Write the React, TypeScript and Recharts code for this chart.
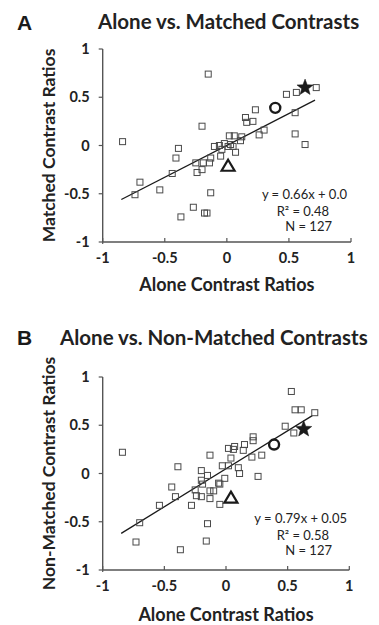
import React from 'react';
import { ScatterChart, Scatter, XAxis, YAxis, ReferenceLine } from 'recharts';

// Panel A: Alone vs. Matched
const aAlone = [-0.84,-0.15,-0.2,-0.39,-0.41,-0.44,-0.54,-0.70,-0.74,-0.37,-0.27,-0.18,-0.16,-0.13,-0.25,-0.24,-0.20,-0.19,-0.14,-0.13,-0.10,-0.06,-0.05,-0.04,-0.02,0.02,0.06,0.03,0.07,0.11,0.12,0.15,0.16,0.21,0.23,0.26,0.30,0.48,0.56,0.72,0.55,0.55,0.63,0.01,0.05];
const aMatched = [0.04,0.74,0.20,-0.03,-0.13,-0.29,-0.46,-0.38,-0.51,-0.74,-0.64,-0.70,-0.70,-0.49,-0.18,-0.28,-0.25,-0.18,-0.18,-0.13,-0.01,0.00,-0.11,-0.04,0.02,0.10,0.10,0.01,-0.07,0.05,0.09,0.29,0.24,0.25,0.37,0.11,0.16,0.53,0.55,0.60,0.34,0.12,0.01,-0.01,-0.01];
const aStar = [{ x: 0.63, y: 0.60 }];
const aCircle = [{ x: 0.39, y: 0.39 }];
const aTriangle = [{ x: 0.01, y: -0.21 }];
const aFit = [{ x: -0.85, y: -0.56 }, { x: 0.71, y: 0.47 }];
const aStats = ['y = 0.66x + 0.0', 'R² = 0.48', 'N = 127'];

// Panel B: Alone vs. Non-Matched
const bAlone = [-0.84,0.53,0.56,0.61,0.72,0.48,0.55,0.22,0.22,0.15,0.07,0.06,0.02,0.14,0.29,0.21,-0.13,0.04,-0.39,-0.03,0.02,0.10,0.11,0.26,-0.20,-0.15,-0.20,-0.01,-0.06,-0.05,-0.19,-0.44,-0.25,-0.24,-0.20,-0.13,-0.10,-0.41,-0.54,-0.28,-0.13,-0.05,-0.70,-0.15,-0.73,-0.37,-0.16];
const bNonMatched = [0.22,0.85,0.66,0.66,0.63,0.49,0.42,0.38,0.34,0.30,0.28,0.25,0.26,0.24,0.19,0.17,0.19,0.16,0.07,0.08,0.08,0.06,0.00,-0.03,0.03,-0.02,-0.07,-0.05,-0.10,-0.11,-0.11,-0.14,-0.17,-0.23,-0.24,-0.18,-0.18,-0.24,-0.33,-0.33,-0.26,-0.32,-0.51,-0.52,-0.71,-0.79,-0.70];
const bStar = [{ x: 0.63, y: 0.46 }];
const bCircle = [{ x: 0.39, y: 0.30 }];
const bTriangle = [{ x: 0.04, y: -0.25 }];
const bFit = [{ x: -0.85, y: -0.62 }, { x: 0.70, y: 0.60 }];
const bStats = ['y = 0.79x + 0.05', 'R² = 0.58', 'N = 127'];

const axisTicks = [-1, -0.5, 0, 0.5, 1];
const FONT = 'Lato, "Open Sans", sans-serif';
const AXIS = '#555';

const Square = (p: any) => (
  <rect x={p.cx - 3} y={p.cy - 3} width={6} height={6} fill="none" stroke="#4a4a4a" strokeWidth={1} />
);
const Star = (p: any) => {
  const pts: string[] = [];
  for (let i = 0; i < 10; i++) {
    const r = i % 2 === 0 ? 8.5 : 3.6;
    const a = -Math.PI / 2 + (i * Math.PI) / 5;
    pts.push(`${p.cx + r * Math.cos(a)},${p.cy + r * Math.sin(a)}`);
  }
  return <polygon points={pts.join(' ')} fill="#1a1a1a" stroke="#1a1a1a" strokeWidth={0.5} />;
};
const Circle = (p: any) => <circle cx={p.cx} cy={p.cy} r={5} fill="none" stroke="#1a1a1a" strokeWidth={2.4} />;
const Triangle = (p: any) => (
  <polygon
    points={`${p.cx},${p.cy - 6} ${p.cx + 6.5},${p.cy + 5} ${p.cx - 6.5},${p.cy + 5}`}
    fill="none"
    stroke="#1a1a1a"
    strokeWidth={2.2}
    strokeLinejoin="miter"
  />
);

const XTick = (p: any) => (
  <g>
    <line x1={p.x} x2={p.x} y1={p.y - 4} y2={p.y + (p.payload.value === -1 ? 2 : 0)} stroke={AXIS} strokeWidth={1.2} />
    <text x={p.x} y={p.y + 21} textAnchor="middle" fontFamily={FONT} fontWeight="bold" fontSize={14.5} fill="#222">
      {String(p.payload.value)}
    </text>
  </g>
);

type PanelProps = {
  xs: number[];
  ys: number[];
  star: any[];
  circle: any[];
  triangle: any[];
  fit: any[];
  yLabel: string;
  top: number;
  height: number;
  marginTop: number;
  marginRight: number;
  xAxisHeight: number;
  xLabelOffset: number;
};

function Panel(props: PanelProps) {
  const data = props.xs.map((x, i) => ({ x, y: props.ys[i] }));
  return (
    <div style={{ position: 'absolute', left: 0, top: props.top }}>
      <ScatterChart
        width={379}
        height={props.height}
        margin={{ top: props.marginTop, right: props.marginRight, bottom: 0, left: 0 }}
      >
        <XAxis
          type="number"
          dataKey="x"
          domain={[-1, 1]}
          ticks={axisTicks}
          interval={0}
          height={props.xAxisHeight}
          stroke={AXIS}
          axisLine={{ stroke: AXIS, strokeWidth: 1.4 }}
          tickLine={false}
          tickSize={0}
          tickMargin={0}
          tick={<XTick />}
          label={{
            value: 'Alone Contrast Ratios',
            position: 'insideBottom',
            offset: props.xLabelOffset,
            style: { fontFamily: FONT, fontWeight: 'bold', fontSize: 18, fill: '#222' },
          }}
        />
        <YAxis
          type="number"
          dataKey="y"
          domain={[-1, 1]}
          ticks={axisTicks}
          interval={0}
          width={102.7}
          axisLine={{ stroke: AXIS, strokeWidth: 1.4 }}
          tickLine={{ stroke: AXIS, strokeWidth: 1.2 }}
          tickSize={4}
          tickMargin={9}
          tick={{ fontFamily: FONT, fontWeight: 'bold', fontSize: 14.5, fill: '#222' }}
          label={{
            value: props.yLabel,
            angle: -90,
            position: 'insideLeft',
            offset: 49,
            style: { fontFamily: FONT, fontWeight: 'bold', fontSize: 17.5, fill: '#222', textAnchor: 'middle' },
          }}
        />
        <ReferenceLine segment={props.fit} stroke="#1a1a1a" strokeWidth={1.3} ifOverflow="visible" />
        <Scatter data={data} shape={Square} isAnimationActive={false} />
        <Scatter data={props.circle} shape={Circle} isAnimationActive={false} />
        <Scatter data={props.triangle} shape={Triangle} isAnimationActive={false} />
        <Scatter data={props.star} shape={Star} isAnimationActive={false} />
      </ScatterChart>
    </div>
  );
}

function Stats({ lines, x, y }: { lines: string[]; x: number; y: number }) {
  const st = { fontFamily: FONT, fontSize: 13, fill: '#222' } as any;
  return (
    <g>
      <text x={x} y={y} textAnchor="end" {...st}>{lines[0]}</text>
      <text x={x - 18} y={y + 17} textAnchor="end" {...st}>{lines[1]}</text>
      <text x={x - 15} y={y + 32} textAnchor="end" {...st}>{lines[2]}</text>
    </g>
  );
}

export default function App() {
  return (
    <div style={{ position: 'absolute', left: 0, top: 0, width: 379, height: 625, background: '#fff' }}>
      <Panel
        xs={aAlone}
        ys={aMatched}
        star={aStar}
        circle={aCircle}
        triangle={aTriangle}
        fit={aFit}
        yLabel="Matched Contrast Ratios"
        top={0}
        height={300}
        marginTop={49}
        marginRight={28}
        xAxisHeight={58}
        xLabelOffset={9}
      />
      <Panel
        xs={bAlone}
        ys={bNonMatched}
        star={bStar}
        circle={bCircle}
        triangle={bTriangle}
        fit={bFit}
        yLabel="Non-Matched Contrast Ratios"
        top={320}
        height={305}
        marginTop={57}
        marginRight={29.7}
        xAxisHeight={55}
        xLabelOffset={4}
      />
      <svg width={379} height={625} style={{ position: 'absolute', left: 0, top: 0, pointerEvents: 'none' }}>
        <text x={17} y={30} fontFamily='"Liberation Sans", Arial, sans-serif' fontWeight="bold" fontSize={21} fill="#1a1a1a">A</text>
        <text x={98} y={29} fontFamily={FONT} fontWeight="bold" fontSize={20.5} fill="#222">Alone vs. Matched Contrasts</text>
        <Stats lines={aStats} x={347} y={199} />
        <text x={17} y={345} fontFamily='"Liberation Sans", Arial, sans-serif' fontWeight="bold" fontSize={21} fill="#1a1a1a">B</text>
        <text x={60} y={345} fontFamily={FONT} fontWeight="bold" fontSize={20.5} fill="#222">Alone vs. Non-Matched Contrasts</text>
        <Stats lines={bStats} x={347} y={523} />
      </svg>
    </div>
  );
}
